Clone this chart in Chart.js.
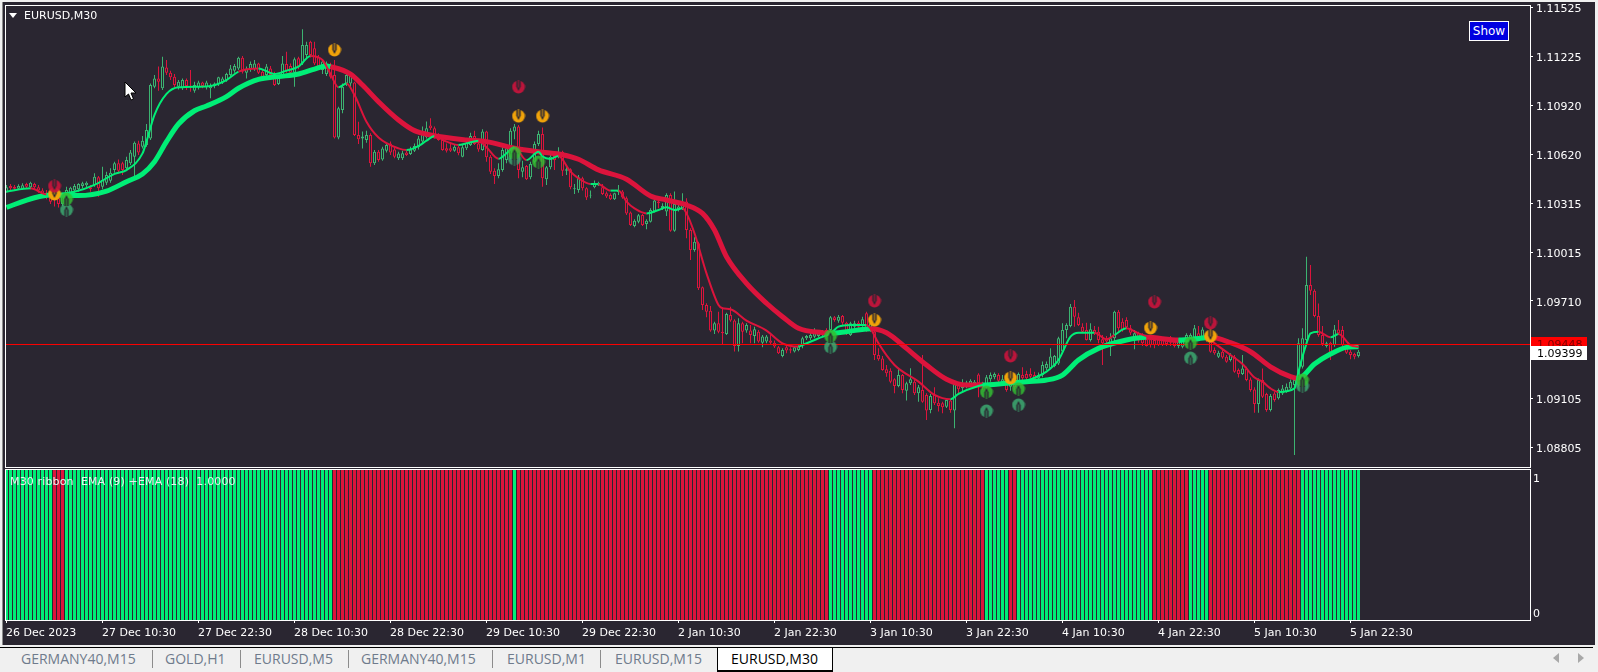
<!DOCTYPE html>
<html>
<head>
<meta charset="utf-8">
<title>EURUSD,M30</title>
<script src="https://cdn.jsdelivr.net/npm/chart.js@4"></script>
<style>
  html, body { margin: 0; padding: 0; }
  body { width: 1598px; height: 672px; overflow: hidden; background: #f0f0f0; position: relative; font-family: "DejaVu Sans", sans-serif; }
  #board { position: absolute; left: 2px; top: 2px; width: 1592px; height: 643px; background: #2a2631; border-left: 1px solid #8c8c8c; }
  canvas { position: absolute; left: 0; }
  #mainChart { top: 0; }
  #ribbonChart { top: 468px; }
  .overlay { position: absolute; white-space: pre; }
  #symbol { left: 24px; top: 9px; color: #fff; font-size: 11px; line-height: 14px; }
  #menuArrow { left: 9px; top: 13px; width: 0; height: 0; border-left: 4px solid transparent; border-right: 4px solid transparent; border-top: 5px solid #fff; }
  #ribbonName { left: 10px; top: 475px; color: #e8f6ee; font-size: 11px; line-height: 14px; letter-spacing: 0.14px; }
  #showBtn { left: 1469px; top: 21px; width: 38px; height: 18px; border: 1px solid #fff; background: #0000e0; color: #fff; font: 12px/18px "DejaVu Sans", sans-serif; text-align: center; }
  #cursor { left: 124px; top: 81px; }
  #tabLine { position: absolute; left: 0; top: 647px; width: 1593px; height: 1px; background: #000; }
  .tab { position: absolute; top: 650px; height: 18px; line-height: 18px; font: 14px/18px "Open Sans", sans-serif; color: #6f7b8c; white-space: pre; }
  .sep { position: absolute; top: 650px; width: 1px; height: 18px; background: #8c8c8c; }
  #activeTab { position: absolute; left: 717px; top: 647px; width: 114px; height: 22px; background: #fff; border: 1px solid #000; border-top: 1px solid #000; border-bottom: 2px solid #000; }
  .scroll { position: absolute; top: 653px; width: 0; height: 0; border-top: 5px solid transparent; border-bottom: 5px solid transparent; }
</style>
</head>
<body>
<div id="board"></div>
<canvas id="mainChart" width="1598" height="468"></canvas>
<canvas id="ribbonChart" width="1598" height="177"></canvas>
<div class="overlay" id="menuArrow"></div>
<div class="overlay" id="symbol">EURUSD,M30</div>
<div class="overlay" id="ribbonName">M30 ribbon  EMA (9) +EMA (18)  1.0000</div>
<div class="overlay" id="showBtn">Show</div>
<svg class="overlay" id="cursor" width="14" height="21" viewBox="0 0 14 21"><path d="M1 1 L1 16 L4.5 13 L7 19 L9.5 18 L7 12 L12 12 Z" fill="#fff" stroke="#000" stroke-width="1"/></svg>
<div id="tabLine"></div>
<div id="activeTab"></div>
<div class="tab" style="left:21px">GERMANY40,M15</div>
<div class="sep" style="left:152px"></div>
<div class="tab" style="left:165px">GOLD,H1</div>
<div class="sep" style="left:240px"></div>
<div class="tab" style="left:254px">EURUSD,M5</div>
<div class="sep" style="left:348px"></div>
<div class="tab" style="left:361px">GERMANY40,M15</div>
<div class="sep" style="left:492px"></div>
<div class="tab" style="left:507px">EURUSD,M1</div>
<div class="sep" style="left:600px"></div>
<div class="tab" style="left:615px">EURUSD,M15</div>
<div class="tab" style="left:731px;color:#000">EURUSD,M30</div>
<div class="scroll" style="left:1553px;border-right:6px solid #a8a8a8"></div>
<div class="scroll" style="left:1578px;border-left:6px solid #a8a8a8"></div>

<script>
"use strict";

// Candles, one entry per M30 bar
const opens = [
  1.10394,1.10429,1.10425,1.10413,1.10413,1.10442,1.10421,1.10442,1.10421,1.10401,
  1.10388,1.10374,1.10363,1.10353,1.10318,1.10363,1.10384,1.10401,1.10409,1.10429,
  1.10434,1.10421,1.10436,1.10483,1.10425,1.10450,1.10462,1.10528,1.10570,1.10570,
  1.10539,1.10570,1.10611,1.10693,1.10673,1.10683,1.10724,1.11044,1.11095,1.11034,
  1.11163,1.11130,1.11106,1.11044,1.11034,1.11085,1.11048,1.11019,1.11040,1.11069,
  1.11040,1.11034,1.11048,1.11060,1.11069,1.11085,1.11116,1.11143,1.11157,1.11223,
  1.11130,1.11151,1.11151,1.11188,1.11137,1.11116,1.11157,1.11122,1.11060,1.11116,
  1.11184,1.11172,1.11130,1.11219,1.11188,1.11240,1.11322,1.11281,1.11229,1.11147,
  1.11122,1.11178,1.11116,1.10730,1.10900,1.11064,1.11064,1.11069,1.10745,1.10724,
  1.10714,1.10745,1.10570,1.10642,1.10594,1.10648,1.10693,1.10656,1.10601,1.10601,
  1.10636,1.10628,1.10648,1.10669,1.10704,1.10731,1.10803,1.10786,1.10745,1.10714,
  1.10663,1.10663,1.10648,1.10669,1.10611,1.10663,1.10683,1.10739,1.10693,1.10652,
  1.10766,1.10611,1.10524,1.10491,1.10529,1.10590,1.10607,1.10766,1.10797,1.10518,
  1.10553,1.10483,1.10580,1.10689,1.10751,1.10471,1.10545,1.10615,1.10611,1.10642,
  1.10524,1.10533,1.10409,1.10405,1.10477,1.10415,1.10370,1.10421,1.10436,1.10421,
  1.10384,1.10374,1.10347,1.10392,1.10395,1.10353,1.10265,1.10182,1.10209,1.10250,
  1.10195,1.10209,1.10271,1.10333,1.10293,1.10271,1.10374,1.10153,1.10285,1.10291,
  1.10333,1.10157,1.10034,1.10075,1.09803,1.09693,1.09658,1.09535,1.09580,1.09528,
  1.09514,1.09632,1.09597,1.09440,1.09580,1.09535,1.09535,1.09502,1.09528,1.09460,
  1.09467,1.09473,1.09460,1.09432,1.09378,1.09432,1.09419,1.09405,1.09415,1.09446,
  1.09487,1.09487,1.09497,1.09502,1.09508,1.09539,1.09539,1.09617,1.09596,1.09625,
  1.09584,1.09508,1.09559,1.09584,1.09570,1.09642,1.09543,1.09528,1.09384,1.09363,
  1.09295,1.09287,1.09234,1.09192,1.09260,1.09163,1.09209,1.09219,1.09147,1.09168,
  1.09137,1.09044,1.09137,1.09089,1.09085,1.09064,1.09102,1.09040,1.09198,1.09178,
  1.09188,1.09205,1.09198,1.09264,1.09213,1.09184,1.09234,1.09246,1.09260,1.09213,
  1.09219,1.09188,1.09219,1.09198,1.09260,1.09267,1.09267,1.09260,1.09240,1.09260,
  1.09302,1.09302,1.09316,1.09332,1.09405,1.09539,1.09563,1.09683,1.09617,1.09559,
  1.09539,1.09477,1.09539,1.09528,1.09481,1.09487,1.09436,1.09487,1.09652,1.09590,
  1.09601,1.09549,1.09487,1.09518,1.09508,1.09481,1.09481,1.09477,1.09481,1.09481,
  1.09481,1.09493,1.09466,1.09439,1.09435,1.09466,1.09476,1.09487,1.09518,1.09497,
  1.09507,1.09466,1.09415,1.09373,1.09404,1.09373,1.09353,1.09373,1.09291,1.09266,
  1.09301,1.09233,1.09171,1.09081,1.09229,1.09142,1.09043,1.09146,1.09116,1.09146,
  1.09157,1.09177,1.09198,1.09198,1.09311,1.09476,1.09817,1.09782,1.09625,1.09507,
  1.09439,1.09460,1.09445,1.09542,1.09538,1.09435,1.09404,1.09390,1.09377
];
const highs = [
  1.10436,1.10442,1.10436,1.10440,1.10446,1.10450,1.10456,1.10450,1.10436,1.10415,
  1.10405,1.10388,1.10394,1.10374,1.10388,1.10425,1.10425,1.10442,1.10446,1.10456,
  1.10458,1.10436,1.10508,1.10491,1.10549,1.10518,1.10539,1.10580,1.10594,1.10580,
  1.10611,1.10652,1.10704,1.10710,1.10739,1.10813,1.11064,1.11116,1.11168,1.11229,
  1.11209,1.11143,1.11122,1.11085,1.11095,1.11095,1.11147,1.11075,1.11081,1.11075,
  1.11081,1.11064,1.11069,1.11106,1.11106,1.11130,1.11178,1.11184,1.11229,1.11234,
  1.11168,1.11199,1.11209,1.11192,1.11151,1.11184,1.11172,1.11137,1.11116,1.11234,
  1.11260,1.11188,1.11225,1.11229,1.11399,1.11322,1.11328,1.11322,1.11240,1.11213,
  1.11199,1.11192,1.11209,1.10920,1.11064,1.11122,1.11126,1.11075,1.10827,1.10766,
  1.10772,1.10755,1.10652,1.10652,1.10673,1.10697,1.10704,1.10673,1.10642,1.10648,
  1.10648,1.10673,1.10693,1.10739,1.10797,1.10828,1.10848,1.10797,1.10755,1.10724,
  1.10693,1.10689,1.10689,1.10677,1.10683,1.10704,1.10759,1.10772,1.10714,1.10780,
  1.10772,1.10621,1.10539,1.10570,1.10669,1.10677,1.10786,1.10813,1.10807,1.10586,
  1.10559,1.10580,1.10704,1.10772,1.10792,1.10553,1.10621,1.10621,1.10669,1.10648,
  1.10545,1.10539,1.10442,1.10498,1.10487,1.10421,1.10401,1.10463,1.10456,1.10442,
  1.10395,1.10384,1.10388,1.10436,1.10405,1.10364,1.10271,1.10223,1.10256,1.10256,
  1.10223,1.10291,1.10347,1.10347,1.10322,1.10384,1.10384,1.10395,1.10322,1.10384,
  1.10353,1.10168,1.10112,1.10085,1.09807,1.09704,1.09687,1.09590,1.09652,1.09679,
  1.09646,1.09683,1.09605,1.09611,1.09590,1.09580,1.09570,1.09559,1.09539,1.09508,
  1.09508,1.09508,1.09473,1.09440,1.09425,1.09440,1.09432,1.09440,1.09444,1.09497,
  1.09508,1.09539,1.09549,1.09528,1.09539,1.09549,1.09625,1.09625,1.09631,1.09631,
  1.09590,1.09590,1.09596,1.09596,1.09621,1.09652,1.09601,1.09549,1.09425,1.09378,
  1.09322,1.09302,1.09240,1.09302,1.09267,1.09219,1.09302,1.09229,1.09198,1.09384,
  1.09147,1.09143,1.09184,1.09116,1.09095,1.09116,1.09110,1.09219,1.09213,1.09234,
  1.09225,1.09234,1.09229,1.09271,1.09219,1.09260,1.09275,1.09275,1.09271,1.09260,
  1.09229,1.09234,1.09229,1.09275,1.09308,1.09287,1.09302,1.09281,1.09275,1.09343,
  1.09343,1.09425,1.09384,1.09497,1.09580,1.09580,1.09700,1.09724,1.09646,1.09580,
  1.09584,1.09580,1.09563,1.09559,1.09508,1.09502,1.09518,1.09658,1.09662,1.09611,
  1.09617,1.09570,1.09539,1.09528,1.09518,1.09497,1.09493,1.09497,1.09497,1.09493,
  1.09493,1.09502,1.09476,1.09487,1.09481,1.09518,1.09518,1.09569,1.09563,1.09555,
  1.09518,1.09518,1.09431,1.09410,1.09415,1.09384,1.09394,1.09384,1.09301,1.09384,
  1.09311,1.09245,1.09184,1.09239,1.09301,1.09151,1.09142,1.09157,1.09177,1.09198,
  1.09208,1.09233,1.09250,1.09487,1.09549,1.09992,1.09940,1.09790,1.09703,1.09563,
  1.09466,1.09466,1.09569,1.09600,1.09563,1.09445,1.09415,1.09398,1.09415
];
const lows = [
  1.10388,1.10401,1.10401,1.10405,1.10405,1.10415,1.10409,1.10405,1.10388,1.10363,
  1.10347,1.10318,1.10302,1.10297,1.10306,1.10347,1.10363,1.10388,1.10394,1.10415,
  1.10421,1.10394,1.10425,1.10363,1.10409,1.10436,1.10450,1.10512,1.10508,1.10497,
  1.10528,1.10559,1.10487,1.10621,1.10662,1.10673,1.10714,1.11034,1.11019,1.11023,
  1.11116,1.11085,1.11040,1.11027,1.11023,1.11023,1.11013,1.11007,1.11027,1.11034,
  1.11027,1.10972,1.11034,1.11048,1.11060,1.11075,1.11106,1.11130,1.11147,1.11126,
  1.11095,1.11137,1.11143,1.11122,1.11095,1.11106,1.11095,1.11048,1.11054,1.11110,
  1.11130,1.11116,1.11044,1.11151,1.11178,1.11219,1.11225,1.11178,1.11147,1.11122,
  1.11110,1.11095,1.10724,1.10718,1.10879,1.11048,1.11040,1.10739,1.10689,1.10662,
  1.10697,1.10549,1.10559,1.10580,1.10586,1.10636,1.10621,1.10601,1.10590,1.10590,
  1.10615,1.10621,1.10640,1.10656,1.10693,1.10724,1.10776,1.10724,1.10710,1.10648,
  1.10636,1.10640,1.10642,1.10619,1.10607,1.10652,1.10677,1.10683,1.10642,1.10648,
  1.10580,1.10504,1.10442,1.10477,1.10518,1.10570,1.10595,1.10718,1.10477,1.10483,
  1.10467,1.10471,1.10570,1.10677,1.10425,1.10436,1.10533,1.10529,1.10601,1.10491,
  1.10498,1.10409,1.10380,1.10388,1.10401,1.10343,1.10353,1.10415,1.10430,1.10374,
  1.10355,1.10343,1.10343,1.10374,1.10351,1.10250,1.10182,1.10174,1.10199,1.10182,
  1.10162,1.10203,1.10265,1.10291,1.10281,1.10244,1.10147,1.10147,1.10271,1.10281,
  1.10106,1.09972,1.10023,1.09786,1.09662,1.09617,1.09528,1.09514,1.09518,1.09452,
  1.09508,1.09590,1.09405,1.09405,1.09456,1.09522,1.09456,1.09456,1.09460,1.09432,
  1.09456,1.09452,1.09427,1.09390,1.09370,1.09394,1.09394,1.09399,1.09407,1.09425,
  1.09477,1.09477,1.09487,1.09493,1.09497,1.09497,1.09528,1.09590,1.09584,1.09570,
  1.09508,1.09502,1.09549,1.09543,1.09559,1.09528,1.09528,1.09353,1.09349,1.09287,
  1.09250,1.09209,1.09147,1.09184,1.09147,1.09102,1.09198,1.09137,1.09095,1.09089,
  1.08982,1.09023,1.09075,1.09034,1.09023,1.09056,1.09027,1.08930,1.09147,1.09157,
  1.09178,1.09192,1.09188,1.09122,1.09168,1.09126,1.09219,1.09234,1.09213,1.09205,
  1.09157,1.09163,1.09168,1.09157,1.09229,1.09229,1.09240,1.09225,1.09229,1.09246,
  1.09291,1.09295,1.09308,1.09322,1.09394,1.09487,1.09555,1.09559,1.09563,1.09522,
  1.09473,1.09467,1.09508,1.09456,1.09322,1.09446,1.09378,1.09446,1.09528,1.09528,
  1.09543,1.09508,1.09419,1.09460,1.09440,1.09436,1.09431,1.09425,1.09440,1.09440,
  1.09440,1.09440,1.09431,1.09425,1.09425,1.09456,1.09466,1.09476,1.09485,1.09489,
  1.09466,1.09398,1.09386,1.09365,1.09361,1.09336,1.09344,1.09274,1.09245,1.09260,
  1.09221,1.09157,1.09027,1.09027,1.09118,1.09033,1.09035,1.09095,1.09109,1.09136,
  1.09151,1.09171,1.08765,1.09188,1.09301,1.09466,1.09755,1.09617,1.09497,1.09439,
  1.09431,1.09353,1.09435,1.09507,1.09435,1.09390,1.09357,1.09357,1.09369
];
const closes = [
  1.10421,1.10415,1.10413,1.10429,1.10434,1.10425,1.10450,1.10421,1.10401,1.10380,
  1.10363,1.10332,1.10343,1.10318,1.10374,1.10405,1.10419,1.10429,1.10442,1.10446,
  1.10450,1.10409,1.10487,1.10415,1.10467,1.10497,1.10512,1.10570,1.10524,1.10528,
  1.10590,1.10636,1.10697,1.10636,1.10710,1.10776,1.11054,1.11095,1.11075,1.11168,
  1.11130,1.11102,1.11054,1.11075,1.11085,1.11048,1.11040,1.11054,1.11069,1.11048,
  1.11069,1.11048,1.11064,1.11102,1.11095,1.11122,1.11157,1.11172,1.11223,1.11137,
  1.11157,1.11184,1.11188,1.11130,1.11106,1.11168,1.11116,1.11054,1.11110,1.11188,
  1.11143,1.11130,1.11213,1.11168,1.11302,1.11302,1.11240,1.11188,1.11168,1.11199,
  1.11188,1.11106,1.10730,1.10910,1.11044,1.11116,1.11116,1.10745,1.10718,1.10735,
  1.10745,1.10570,1.10642,1.10590,1.10662,1.10683,1.10636,1.10611,1.10631,1.10632,
  1.10621,1.10656,1.10677,1.10724,1.10751,1.10786,1.10786,1.10739,1.10714,1.10652,
  1.10648,1.10648,1.10673,1.10632,1.10669,1.10698,1.10739,1.10689,1.10656,1.10766,
  1.10607,1.10518,1.10491,1.10533,1.10652,1.10663,1.10772,1.10797,1.10529,1.10545,
  1.10471,1.10566,1.10689,1.10751,1.10477,1.10545,1.10611,1.10590,1.10642,1.10524,
  1.10533,1.10421,1.10415,1.10483,1.10415,1.10359,1.10374,1.10446,1.10450,1.10380,
  1.10364,1.10347,1.10384,1.10401,1.10359,1.10260,1.10188,1.10215,1.10248,1.10188,
  1.10215,1.10281,1.10339,1.10322,1.10306,1.10374,1.10153,1.10318,1.10302,1.10333,
  1.10157,1.10034,1.10085,1.09797,1.09693,1.09652,1.09535,1.09580,1.09528,1.09518,
  1.09638,1.09597,1.09440,1.09580,1.09528,1.09570,1.09508,1.09543,1.09467,1.09498,
  1.09498,1.09460,1.09436,1.09394,1.09415,1.09411,1.09411,1.09432,1.09436,1.09487,
  1.09502,1.09508,1.09518,1.09518,1.09528,1.09508,1.09617,1.09601,1.09621,1.09584,
  1.09514,1.09580,1.09580,1.09559,1.09605,1.09539,1.09580,1.09384,1.09357,1.09291,
  1.09271,1.09219,1.09192,1.09260,1.09168,1.09209,1.09234,1.09147,1.09184,1.09095,
  1.09040,1.09130,1.09085,1.09069,1.09060,1.09106,1.09044,1.09209,1.09172,1.09188,
  1.09213,1.09225,1.09219,1.09209,1.09184,1.09246,1.09260,1.09267,1.09225,1.09234,
  1.09168,1.09219,1.09184,1.09267,1.09240,1.09240,1.09250,1.09234,1.09260,1.09322,
  1.09328,1.09374,1.09378,1.09487,1.09539,1.09570,1.09683,1.09621,1.09570,1.09528,
  1.09477,1.09543,1.09518,1.09477,1.09456,1.09467,1.09487,1.09652,1.09549,1.09539,
  1.09555,1.09522,1.09518,1.09473,1.09456,1.09440,1.09446,1.09446,1.09446,1.09446,
  1.09452,1.09460,1.09439,1.09476,1.09472,1.09507,1.09507,1.09549,1.09493,1.09542,
  1.09476,1.09404,1.09394,1.09398,1.09369,1.09342,1.09384,1.09281,1.09266,1.09301,
  1.09229,1.09167,1.09081,1.09229,1.09126,1.09043,1.09130,1.09105,1.09167,1.09177,
  1.09188,1.09219,1.09229,1.09456,1.09487,1.09817,1.09782,1.09625,1.09507,1.09452,
  1.09456,1.09384,1.09542,1.09518,1.09445,1.09398,1.09384,1.09373,1.09404
];

// EMA (18), thick line, read at the bends
const slowBars = [0,7,11,18,25,30,34,37,40,43,47,50,55,58,63,68,73,77,80,81,86,89,93,98,102,106,115,120,127,134,139,143,148,155,161,165,170,174,177,180,185,190,194,198,204,206,210,216,220,225,230,235,240,244,250,255,260,264,268,273,280,285,293,298,301,306,311,316,321,323,327,331,335,338];
const slowPrices = [1.10297,1.10357,1.10374,1.10370,1.10398,1.10456,1.10504,1.10580,1.10704,1.10813,1.10895,1.10924,1.10982,1.11034,1.11089,1.11106,1.11122,1.11153,1.11172,1.11168,1.11122,1.11054,1.10951,1.10838,1.10772,1.10745,1.10714,1.10704,1.10663,1.10638,1.10623,1.10595,1.10529,1.10471,1.10368,1.10343,1.10312,1.10260,1.10157,1.09992,1.09827,1.09704,1.09621,1.09549,1.09522,1.09518,1.09528,1.09547,1.09522,1.09425,1.09322,1.09234,1.09198,1.09198,1.09209,1.09219,1.09229,1.09260,1.09353,1.09425,1.09477,1.09493,1.09476,1.09485,1.09493,1.09460,1.09404,1.09311,1.09250,1.09239,1.09328,1.09390,1.09431,1.09435];
const slowTurns = [81,205,216,244,285,293,301,323];

// EMA (9), thin line, read at the bends
const fastBars = [0,6,10,17,22,27,30,34,35,37,40,43,48,51,55,58,63,67,70,73,76,79,81,83,85,87,90,93,98,100,103,105,107,110,113,115,118,120,123,125,127,130,133,134,136,138,141,143,146,148,151,153,155,157,160,163,165,167,169,170,172,175,178,179,181,185,190,194,198,199,203,206,208,211,215,216,218,222,228,232,236,238,243,247,252,256,260,263,266,268,272,275,277,280,283,288,293,297,300,301,306,309,312,314,316,318,322,323,325,326,328,331,333,336,338];
const fastPrices = [1.10394,1.10415,1.10378,1.10394,1.10436,1.10504,1.10528,1.10631,1.10704,1.10869,1.10999,1.11040,1.11044,1.11048,1.11085,1.11137,1.11157,1.11122,1.11143,1.11168,1.11234,1.11209,1.11122,1.11040,1.11064,1.10992,1.10827,1.10730,1.10662,1.10652,1.10677,1.10710,1.10739,1.10704,1.10683,1.10693,1.10710,1.10669,1.10598,1.10632,1.10669,1.10590,1.10642,1.10611,1.10597,1.10615,1.10518,1.10477,1.10442,1.10440,1.10401,1.10401,1.10333,1.10291,1.10260,1.10281,1.10298,1.10281,1.10291,1.10260,1.10137,1.09889,1.09693,1.09673,1.09667,1.09597,1.09535,1.09456,1.09436,1.09446,1.09487,1.09518,1.09559,1.09570,1.09570,1.09549,1.09456,1.09322,1.09219,1.09137,1.09110,1.09143,1.09192,1.09209,1.09209,1.09234,1.09281,1.09353,1.09497,1.09522,1.09522,1.09481,1.09508,1.09549,1.09518,1.09481,1.09466,1.09493,1.09497,1.09476,1.09384,1.09328,1.09245,1.09219,1.09177,1.09155,1.09177,1.09281,1.09456,1.09518,1.09528,1.09493,1.09514,1.09445,1.09435];
const fastTurns = [6,10,58,63,76,83,85,100,107,113,118,123,127,130,138,146,148,151,153,160,169,198,215,236,272,277,280,293,300,318,328,331,333];

// Signal arrows
const sellBars = [12,128,217,251,287,301];
const sellPrices = [1.10429,1.11042,1.09718,1.09378,1.09712,1.09582];
const warnBars = [12,82,128,134,217,251,286,301];
const warnPrices = [1.10380,1.11271,1.10862,1.10862,1.09600,1.09242,1.09551,1.09501];
const buyBars = [15,127,133,206,245,253,296,324];
const buyPrices = [1.10349,1.10634,1.10578,1.09501,1.09155,1.09174,1.09458,1.09229];
const holdBars = [15,127,206,245,253,296,324];
const holdPrices = [1.10281,1.10596,1.09433,1.09038,1.09075,1.09365,1.09192];

// Ribbon panel: direction flips, first run is up
const ribbonTurns = [12,15,82,127,128,206,217,245,251,253,287,296,301,324];

const askPrice = 1.09449;
const bidPrice = 1.09399;
const askLabel = "1.09448";
const bidLabel = "1.09399";

const priceTickValues = [1.11534,1.11231,1.10929,1.10626,1.10324,1.10021,1.09719,1.09416,1.09114,1.08811];
const priceTickLabels = ["1.11525","1.11225","1.10920","1.10620","1.10315","1.10015","1.09710","1.09410","1.09105","1.08805"];
const timeLabels = ["26 Dec 2023","27 Dec 10:30","27 Dec 22:30","28 Dec 10:30","28 Dec 22:30","29 Dec 10:30","29 Dec 22:30","2 Jan 10:30","2 Jan 22:30","3 Jan 10:30","3 Jan 22:30","4 Jan 10:30","4 Jan 22:30","5 Jan 10:30","5 Jan 22:30"];

const GREEN = "#00ee76";
const RED = "#dc143c";
const CANDLE_UP = "#3cb371";
const CANDLE_DOWN = "#dc143c";
const BACKGROUND = "#2a2631";
const FONT = { family: "'DejaVu Sans'", size: 11 };

// bar i is centred half a pixel right of the left edge of its 4px slot
const X_MIN = -0.125;
const X_MAX = 380.875;

const trendUp = (turns, bar) => turns.filter((t) => t <= bar).length % 2 === 0;
const points = (bars, prices) => bars.map((b, k) => ({ x: b, y: prices[k] }));

function arrowMarker(color, pointsUp) {
  const c = document.createElement("canvas");
  c.width = 14;
  c.height = 14;
  const g = c.getContext("2d");
  g.fillStyle = color;
  g.beginPath();
  g.arc(7, 7, 6.4, 0, Math.PI * 2);
  g.fill();
  if (pointsUp) {
    g.translate(0, 14);
    g.scale(1, -1);
  }
  g.fillStyle = BACKGROUND;
  g.beginPath();
  g.moveTo(4.8, 0);
  g.lineTo(9.2, 0);
  g.lineTo(9.2, 6.5);
  g.lineTo(7, 11);
  g.lineTo(4.8, 6.5);
  g.closePath();
  g.fill();
  g.fillStyle = color;
  g.fillRect(6.5, 0, 1, 7.5);
  return c;
}

// keep the frame where the reference has it, labels may overhang
const noOverhang = (scale) => {
  scale.paddingTop = 0;
  scale.paddingBottom = 0;
  scale.paddingLeft = 0;
  scale.paddingRight = 0;
};

const panelFrame = {
  id: "panelFrame",
  afterDatasetsDraw(chart) {
    const a = chart.chartArea;
    const ctx = chart.ctx;
    ctx.save();
    ctx.strokeStyle = "#fff";
    ctx.lineWidth = 1;
    ctx.strokeRect(a.left - 0.5, a.top - 0.5, a.right - a.left + 1, a.bottom - a.top + 1);
    ctx.restore();
  },
};

const priceTags = {
  id: "priceTags",
  afterDraw(chart) {
    const ctx = chart.ctx;
    const y = chart.scales.y;
    const drawTag = (value, text, fill, ink) => {
      const mid = Math.round(y.getPixelForValue(value));
      ctx.fillStyle = fill;
      ctx.fillRect(1531, mid - 7, 56, 14);
      ctx.fillStyle = ink;
      ctx.font = "11px 'DejaVu Sans'";
      ctx.textBaseline = "middle";
      ctx.textAlign = "left";
      ctx.fillText(text, 1537, mid + 1);
    };
    drawTag(askPrice, askLabel, "#ff0000", "#7a0000");
    drawTag(bidPrice, bidLabel, "#ffffff", "#000000");
  },
};

const candleColor = (ctx) => (closes[ctx.dataIndex] >= opens[ctx.dataIndex] ? CANDLE_UP : CANDLE_DOWN);

const mainChart = new Chart(document.getElementById("mainChart"), {
  type: "bar",
  data: {
    datasets: [
      {
        label: "wick",
        order: 6,
        grouped: false,
        barThickness: 1,
        inflateAmount: 0,
        borderWidth: 0,
        backgroundColor: candleColor,
        data: opens.map((o, i) => ({ x: i, y: [lows[i], highs[i]] })),
      },
      {
        label: "body",
        order: 5,
        grouped: false,
        barThickness: 3,
        inflateAmount: 0,
        borderWidth: 1,
        borderSkipped: false,
        borderColor: candleColor,
        backgroundColor: BACKGROUND,
        data: opens.map((o, i) => ({ x: i, y: [o, closes[i]] })),
      },
      {
        type: "line",
        label: "EMA (18)",
        order: 4,
        data: points(slowBars, slowPrices),
        borderWidth: 5,
        borderColor: GREEN,
        pointRadius: 0,
        cubicInterpolationMode: "monotone",
        segment: {
          borderColor: (ctx) => (trendUp(slowTurns, ctx.p0.parsed.x) ? GREEN : RED),
        },
      },
      {
        type: "line",
        label: "EMA (9)",
        order: 3,
        data: points(fastBars, fastPrices),
        borderWidth: 2,
        borderColor: GREEN,
        pointRadius: 0,
        cubicInterpolationMode: "monotone",
        segment: {
          borderColor: (ctx) => (trendUp(fastTurns, ctx.p0.parsed.x) ? GREEN : RED),
        },
      },
      {
        type: "line",
        label: "ask",
        order: 2,
        data: [{ x: X_MIN, y: askPrice }, { x: X_MAX, y: askPrice }],
        borderWidth: 1,
        borderColor: "#ff0000",
        pointRadius: 0,
      },
      { type: "scatter", label: "sell", order: 1, data: points(sellBars, sellPrices), pointStyle: arrowMarker("rgba(200,20,60,0.92)", false) },
      { type: "scatter", label: "warn", order: 1, data: points(warnBars, warnPrices), pointStyle: arrowMarker("#f0a30a", false) },
      { type: "scatter", label: "buy", order: 1, data: points(buyBars, buyPrices), pointStyle: arrowMarker("rgba(50,190,50,0.85)", true) },
      { type: "scatter", label: "hold", order: 1, data: points(holdBars, holdPrices), pointStyle: arrowMarker("rgba(60,170,113,0.85)", true) },
    ],
  },
  options: {
    responsive: false,
    animation: false,
    events: [],
    layout: { autoPadding: false, padding: { left: 6, top: 6, bottom: 1, right: 0 } },
    plugins: { legend: { display: false }, tooltip: { enabled: false } },
    scales: {
      x: {
        type: "linear",
        display: false,
        offset: false,
        min: X_MIN,
        max: X_MAX,
        ticks: { display: false },
        afterFit(scale) {
          scale.height = 0;
          noOverhang(scale);
        },
      },
      y: {
        position: "right",
        min: 1.08691,
        max: 1.11543,
        afterFit(scale) {
          scale.width = 68;
          noOverhang(scale);
        },
        afterBuildTicks(scale) {
          scale.ticks = priceTickValues.map((value) => ({ value }));
        },
        border: { display: false },
        grid: { drawOnChartArea: false, drawTicks: true, tickLength: 3, tickColor: "#fff" },
        ticks: {
          color: "#fff",
          font: FONT,
          padding: 3,
          labelOffset: 2,
          autoSkip: false,
          callback: (value, index) => priceTickLabels[index],
        },
      },
    },
  },
  plugins: [panelFrame, priceTags],
});

const ribbonChart = new Chart(document.getElementById("ribbonChart"), {
  type: "bar",
  data: {
    datasets: [
      {
        label: "ribbon",
        barThickness: 3,
        inflateAmount: 0,
        borderWidth: 0,
        backgroundColor: (ctx) => (trendUp(ribbonTurns, ctx.dataIndex) ? GREEN : RED),
        data: opens.map((o, i) => ({ x: i, y: [-0.1, 1.1] })),
      },
    ],
  },
  options: {
    responsive: false,
    animation: false,
    events: [],
    layout: { autoPadding: false, padding: { left: 6, top: 2, bottom: 0, right: 0 } },
    plugins: { legend: { display: false }, tooltip: { enabled: false } },
    scales: {
      x: {
        type: "linear",
        offset: false,
        min: X_MIN,
        max: X_MAX,
        afterFit(scale) {
          scale.height = 25;
          noOverhang(scale);
        },
        afterBuildTicks(scale) {
          scale.ticks = timeLabels.map((t, k) => ({ value: k * 24 + X_MIN }));
        },
        border: { display: false },
        grid: { offset: false, drawOnChartArea: false, drawTicks: true, tickLength: 3, tickColor: "#fff" },
        ticks: {
          color: "#fff",
          font: FONT,
          padding: 4,
          align: "start",
          autoSkip: false,
          maxRotation: 0,
          callback: (value, index) => timeLabels[index],
        },
      },
      y: {
        position: "right",
        min: -0.052,
        max: 1.059,
        afterFit(scale) {
          scale.width = 68;
          noOverhang(scale);
        },
        afterBuildTicks(scale) {
          scale.ticks = [{ value: 1 }, { value: 0 }];
        },
        border: { display: false },
        grid: { display: false, drawTicks: false },
        ticks: {
          color: "#fff",
          font: FONT,
          padding: 3,
          labelOffset: 1,
          callback: (value) => String(value),
        },
      },
    },
  },
  plugins: [panelFrame],
});
</script>
</body>
</html>
